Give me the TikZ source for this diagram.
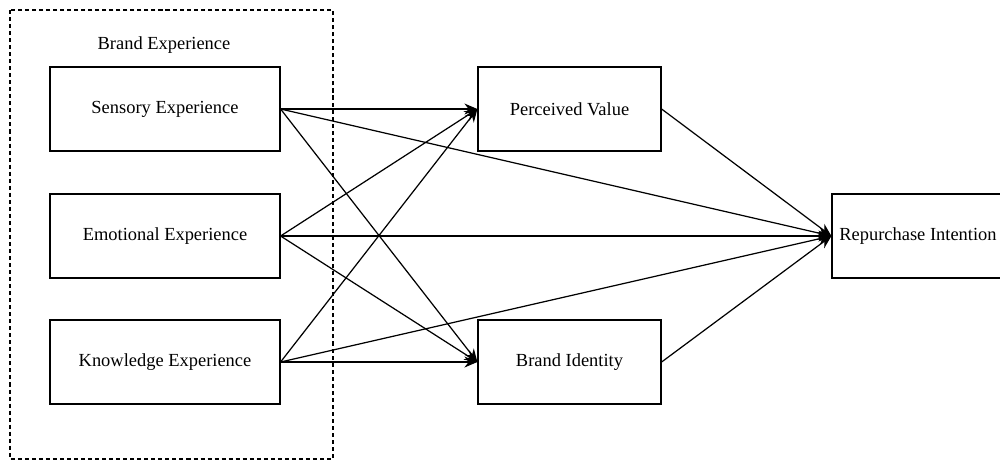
\documentclass[tikz,border=0pt]{standalone}
\usepackage{fontspec}
\setmainfont{Liberation Serif}
\usepackage{tikz}
\usetikzlibrary{arrows.meta,positioning}

\begin{document}
\begin{tikzpicture}[
    x=0.02cm, y=-0.02cm,
    construct/.style={draw, line width=0.7pt, minimum height=1.68cm,
                      align=center, font=\fontsize{10.5}{12}\selectfont, inner sep=0pt},
    dim/.style={construct, minimum width=4.6cm},
    med/.style={construct, minimum width=3.66cm},
    outc/.style={construct, minimum width=3.44cm},
    arr/.style={-{Stealth[length=2.6mm,width=2.2mm]}, line width=0.7pt},
    group/.style={draw, dash pattern=on 2.3pt off 1.7pt, line width=0.6pt}
]
\clip (0,0) rectangle (1000,461);

% brand experience block
\draw[group] (10,10) rectangle (333,459);
\node[font=\fontsize{10.5}{12}\selectfont] (blabel) at (164,45) {Brand Experience};
\node[dim] (sens) at (165,109) {Sensory Experience};
\node[dim] (emot) at (165,236) {Emotional Experience};
\node[dim] (know) at (165,362) {Knowledge Experience};

% mediators and outcome
\node[med] (pval) at (569.5,109) {Perceived Value};
\node[med] (bid) at (569.5,362) {Brand Identity};
\node[outc] (rint) at (918,236) {Repurchase Intention};

\draw[arr] (sens.east) -- (pval.west);
\draw[arr] (sens.east) -- (rint.west);
\draw[arr] (sens.east) -- (bid.west);
\draw[arr] (emot.east) -- (pval.west);
\draw[arr] (emot.east) -- (rint.west);
\draw[arr] (emot.east) -- (bid.west);
\draw[arr] (know.east) -- (pval.west);
\draw[arr] (know.east) -- (rint.west);
\draw[arr] (know.east) -- (bid.west);
\draw[arr] (pval.east) -- (rint.west);
\draw[arr] (bid.east) -- (rint.west);
\end{tikzpicture}
\end{document}
